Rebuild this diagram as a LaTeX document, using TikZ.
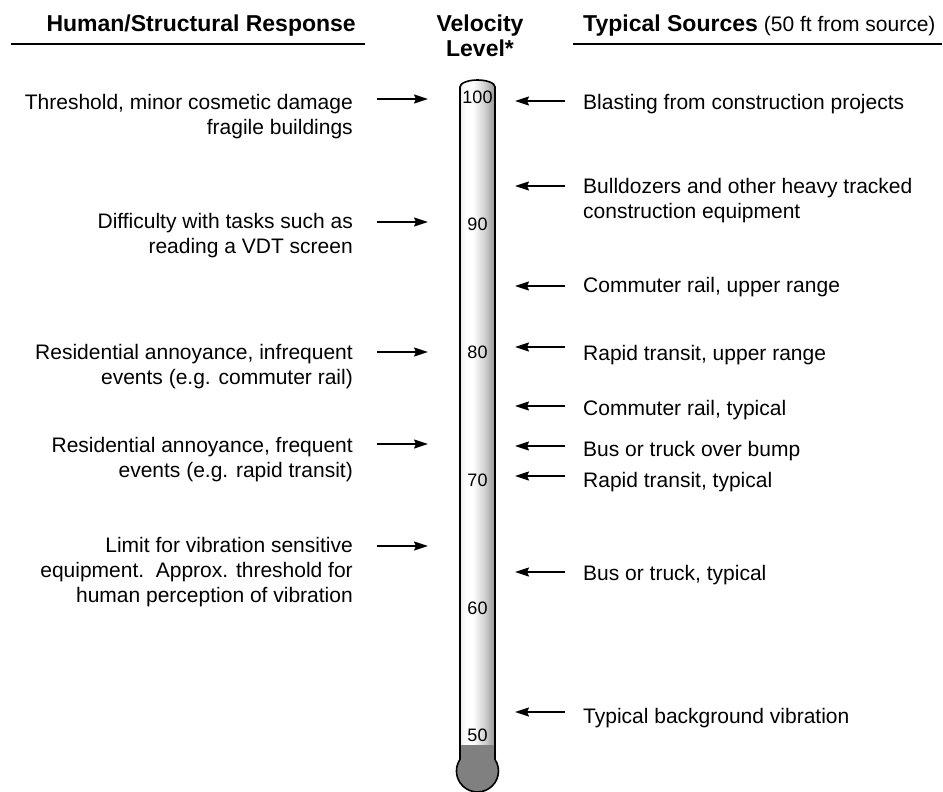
\documentclass[tikz,border=0pt]{standalone}
\usepackage{fontspec}
\setmainfont{Liberation Sans}
\usetikzlibrary{arrows.meta}
\pgfdeclarehorizontalshading{tubeshade}{100bp}{color(0bp)=(black!28); color(25bp)=(black!28); color(31bp)=(black!6); color(36bp)=(white); color(44bp)=(white); color(58bp)=(black!20); color(68bp)=(black!42); color(75bp)=(black!62); color(100bp)=(black!62)}
\newcommand{\tubeoutline}{(460,87) arc[start angle=180, end angle=360, x radius=17.5, y radius=7] -- (495,759.4) arc[start angle=-33.5, end angle=213.5, radius=21] -- cycle}
\begin{document}
\begin{tikzpicture}[x=1pt, y=-1pt,
  every node/.style={inner sep=0pt, font=\fontsize{21}{25}\selectfont},
  head/.style={font=\bfseries\fontsize{23}{25}\selectfont},
  lvl/.style={font=\fontsize{18}{20}\selectfont},
  resp/.style={anchor=base east, align=right},
  src/.style={anchor=base west, align=left},
  arr/.style={-{Stealth[length=14pt, width=9pt, inset=2pt]}, line width=1.5pt},
  rule/.style={line width=1.5pt}]
  \useasboundingbox (0,0) rectangle (943,792);
  % headings (base of a multi-line node = its last line)
  \node[head, anchor=base east] (hdrresp) at (356,32) {Human/Structural Response};
  \node[head, anchor=base, align=center] (hdrvel) at (480,57) {Velocity\\Level*};
  \node[anchor=base west] (hdrsrc) at (583,32) {{\bfseries\fontsize{23}{25}\selectfont Typical Sources}\hspace{6pt}(50 ft from source)};
  \draw[rule] (11,44) -- (365,44);
  \draw[rule] (573,44) -- (942,44);
  % thermometer
  \shade[shading=tubeshade] \tubeoutline;
  \begin{scope}
    \clip \tubeoutline;
    \fill[black!50] (440,745) rectangle (520,800);
  \end{scope}
  \draw[line width=1.6pt] \tubeoutline;
  \node[lvl] (v100) at (477.5,97) {100};
  \node[lvl] (v90) at (477.5,224.7) {90};
  \node[lvl] (v80) at (477.5,352.4) {80};
  \node[lvl] (v70) at (477.5,480) {70};
  \node[lvl] (v60) at (477.5,607.8) {60};
  \node[lvl] (v50) at (477.5,735.5) {50};
  % human/structural response
  \node[resp] (thresh) at (353,135) {Threshold, minor cosmetic damage\\fragile buildings};
  \node[resp] (vdt) at (353,253) {Difficulty with tasks such as\\reading a VDT screen};
  \node[resp] (resinf) at (353,384) {Residential annoyance, infrequent\\events (e.g. commuter rail)};
  \node[resp] (resfreq) at (353,477) {Residential annoyance, frequent\\events (e.g. rapid transit)};
  \node[resp] (sens) at (353,602) {Limit for vibration sensitive\\equipment.\ \ Approx. threshold for\\human perception of vibration};
  \coordinate (thresh-t) at (377,99);   \coordinate (thresh-h) at (428,99);
  \coordinate (vdt-t) at (377,222);     \coordinate (vdt-h) at (428,222);
  \coordinate (resinf-t) at (377,352);  \coordinate (resinf-h) at (428,352);
  \coordinate (resfreq-t) at (377,444); \coordinate (resfreq-h) at (428,444);
  \coordinate (sens-t) at (377,546);    \coordinate (sens-h) at (428,546);
  \draw[arr] (thresh-t) -- (thresh-h);
  \draw[arr] (vdt-t) -- (vdt-h);
  \draw[arr] (resinf-t) -- (resinf-h);
  \draw[arr] (resfreq-t) -- (resfreq-h);
  \draw[arr] (sens-t) -- (sens-h);
  % typical sources
  \node[src] (blast) at (583,110) {Blasting from construction projects};
  \node[src] (dozer) at (583,218) {Bulldozers and other heavy tracked\\construction equipment};
  \node[src] (crup) at (583,292) {Commuter rail, upper range};
  \node[src] (rtup) at (583,360) {Rapid transit, upper range};
  \node[src] (crtyp) at (583,415) {Commuter rail, typical};
  \node[src] (bump) at (583,456) {Bus or truck over bump};
  \node[src] (rttyp) at (583,487) {Rapid transit, typical};
  \node[src] (bustyp) at (583,580) {Bus or truck, typical};
  \node[src] (backgr) at (583,723) {Typical background vibration};
  \coordinate (blast-t) at (565,101);  \coordinate (blast-h) at (515,101);
  \coordinate (dozer-t) at (565,186);  \coordinate (dozer-h) at (515,186);
  \coordinate (crup-t) at (565,286);   \coordinate (crup-h) at (515,286);
  \coordinate (rtup-t) at (565,347);   \coordinate (rtup-h) at (515,347);
  \coordinate (crtyp-t) at (565,406);  \coordinate (crtyp-h) at (515,406);
  \coordinate (bump-t) at (565,446);   \coordinate (bump-h) at (515,446);
  \coordinate (rttyp-t) at (565,476);  \coordinate (rttyp-h) at (515,476);
  \coordinate (bustyp-t) at (565,572); \coordinate (bustyp-h) at (515,572);
  \coordinate (backgr-t) at (565,712); \coordinate (backgr-h) at (515,712);
  \draw[arr] (blast-t) -- (blast-h);
  \draw[arr] (dozer-t) -- (dozer-h);
  \draw[arr] (crup-t) -- (crup-h);
  \draw[arr] (rtup-t) -- (rtup-h);
  \draw[arr] (crtyp-t) -- (crtyp-h);
  \draw[arr] (bump-t) -- (bump-h);
  \draw[arr] (rttyp-t) -- (rttyp-h);
  \draw[arr] (bustyp-t) -- (bustyp-h);
  \draw[arr] (backgr-t) -- (backgr-h);
\end{tikzpicture}
\end{document}
